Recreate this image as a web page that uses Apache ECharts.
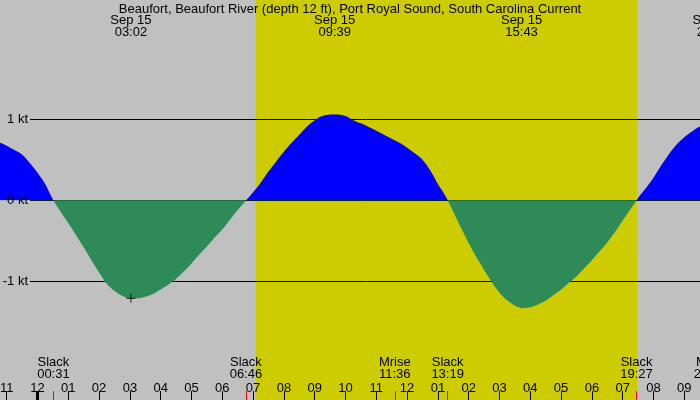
<!DOCTYPE html>
<html>
<head>
<meta charset="utf-8">
<script src="https://cdn.jsdelivr.net/npm/echarts@6/dist/echarts.min.js"></script>
<style>
  html, body { margin: 0; padding: 0; background: #c0c0c0; }
  #chart { width: 700px; height: 400px; }
</style>
</head>
<body>
<div id="chart"></div>
<script>
// current speed read every quarter hour, starting 22:45 on Sep 14 (+ flood, - ebb), knots
const startHour = -1.25
const stepHours = 0.25
const knots = [
  0.715, 0.675, 0.62, 0.565, 0.46, 0.34, 0.20, 0.01,
  -0.14, -0.28, -0.43, -0.58, -0.74, -0.89, -1.03, -1.12,
  -1.18, -1.21, -1.21, -1.19, -1.155, -1.10, -1.04, -0.97,
  -0.88, -0.78, -0.67, -0.57, -0.46, -0.36, -0.24, -0.12,
  -0.01, 0.10, 0.22, 0.355, 0.48, 0.60, 0.71, 0.81,
  0.91, 0.99, 1.04, 1.06, 1.06, 1.04, 0.99, 0.95,
  0.905, 0.86, 0.81, 0.76, 0.71, 0.65, 0.58, 0.50,
  0.37, 0.20, 0.05, -0.14, -0.34, -0.53, -0.70, -0.86,
  -1.01, -1.14, -1.235, -1.30, -1.33, -1.32, -1.285, -1.24,
  -1.17, -1.10, -1.02, -0.94, -0.84, -0.74, -0.63, -0.52,
  -0.39, -0.25, -0.11, 0.03, 0.15, 0.28, 0.43, 0.57,
  0.69, 0.78, 0.85, 0.91, 0.96, 1.0
]
const hours = knots.map((_, i) => startHour + i * stepHours)

const hourTicks = [-1, 0, 1, 2, 3, 4, 5, 6, 7, 8, 9, 10, 11, 12, 13, 14, 15, 16, 17, 18, 19, 20, 21]
const levelTicks = [-1, 0, 1]

const eventNames = ['Slack', 'Slack', 'Mrise', 'Slack', 'Slack', 'Mset']
const eventClock = ['00:31', '06:46', '11:36', '13:19', '19:27', '21:50']

const peakDates = ['Sep 15', 'Sep 15', 'Sep 15', 'Sep 15']
const peakClock = ['03:02', '09:39', '15:43', '21:56']

const ebbMark = [[3.033, -1.21]]
const sunrise = '07:05'
const sunset = '19:28'

const toHours = s => { const [h, m] = s.split(':').map(Number); return h + m / 60 }
const eventTimes = eventClock.map(toHours)
const peakTimes = peakClock.map(toHours)
const find = (arr, v) => arr.findIndex(t => Math.abs(t - v) < 1e-6)

const font = { fontFamily: 'Liberation Sans', fontSize: 13, color: '#000' }
const H = 400
const gridW = 770
const xMin = -1.2175
const xMax = xMin + 25
const yMin = -2.465
const yMax = 2.473
const zeroAt = yMax / (yMax - yMin)
// level lines begin just right of their "kt" labels
const lineStart = xMin + 30 * (xMax - xMin) / gridW

const baseX = {
  type: 'value', min: xMin, max: xMax, gridIndex: 0,
  axisLine: { show: false, onZero: false }, splitLine: { show: false }
}

const chart = echarts.init(document.getElementById('chart'))
chart.setOption({
  backgroundColor: '#c0c0c0',
  animation: false,
  title: {
    text: 'Beaufort, Beaufort River (depth 12 ft), Port Royal Sound, South Carolina Current',
    left: 'center', top: 2, padding: 0,
    textStyle: { ...font, fontWeight: 'normal', lineHeight: 14 }
  },
  // wider than the canvas so labels past 21:30 get cut at the right edge
  grid: { left: 0, top: 0, width: gridW, height: H, outerBoundsMode: 'none', containLabel: false },
  xAxis: [
    {
      ...baseX, position: 'bottom',
      axisTick: { inside: true, length: 9, customValues: hourTicks, lineStyle: { color: '#000', width: 1 } },
      axisLabel: {
        inside: true, margin: 6, customValues: hourTicks, ...font, lineHeight: 12,
        formatter: v => {
          const h = ((Math.round(v) % 12) + 12) % 12
          return String(h === 0 ? 12 : h).padStart(2, '0')
        }
      }
    },
    {
      ...baseX, position: 'bottom',
      axisTick: { inside: true, length: 9, customValues: eventTimes, lineStyle: { color: '#ff0000', width: 1 } },
      axisLabel: {
        inside: true, margin: 19, customValues: eventTimes, ...font, lineHeight: 12.3,
        formatter: v => { const i = find(eventTimes, v); return i < 0 ? '' : eventNames[i] + '\n' + eventClock[i] }
      }
    },
    {
      ...baseX, position: 'bottom',
      axisTick: { inside: true, length: 9, customValues: [0], lineStyle: { color: '#000', width: 3 } },
      axisLabel: { show: false }
    },
    {
      ...baseX, position: 'top',
      axisTick: { show: false },
      axisLabel: {
        inside: true, margin: 15, customValues: peakTimes, ...font, lineHeight: 11.8,
        formatter: v => { const i = find(peakTimes, v); return i < 0 ? '' : peakDates[i] + '\n' + peakClock[i] }
      }
    }
  ],
  yAxis: {
    type: 'value', min: yMin, max: yMax, z: 5,
    axisLine: { show: false, onZero: false }, splitLine: { show: false },
    axisTick: { show: false },
    axisLabel: {
      inside: true, margin: 28, align: 'right', customValues: levelTicks, ...font,
      formatter: v => v + ' kt'
    }
  },
  series: [
    {
      type: 'line', z: 2,
      data: hours.map((h, i) => [h, knots[i]]),
      smooth: 0.3,
      symbol: 'none',
      lineStyle: { width: 0 },
      areaStyle: {
        opacity: 1,
        // grid covers the full canvas height, so zero sits at zeroAt of it
        color: new echarts.graphic.LinearGradient(0, 0, 0, H, [
          { offset: 0, color: '#0000ff' },
          { offset: zeroAt, color: '#0000ff' },
          { offset: zeroAt, color: '#2e8b57' },
          { offset: 1, color: '#2e8b57' }
        ], true)
      },
      markArea: {
        z: 0, silent: true,
        itemStyle: { color: '#cccc00' },
        data: [[{ xAxis: toHours(sunrise) }, { xAxis: toHours(sunset) }]]
      },
      markLine: {
        z: 1, silent: true, symbol: 'none',
        label: { show: false },
        lineStyle: { color: '#000', width: 1, type: 'solid' },
        data: levelTicks.map(v => [{ coord: [lineStart, v] }, { coord: [xMax, v] }])
      }
    },
    {
      type: 'scatter', z: 4,
      data: ebbMark,
      symbol: 'path://M0,5L10,5M5,0L5,10',
      symbolSize: 9,
      itemStyle: { color: 'none', borderColor: '#000', borderWidth: 1 }
    }
  ]
})
</script>
</body>
</html>
